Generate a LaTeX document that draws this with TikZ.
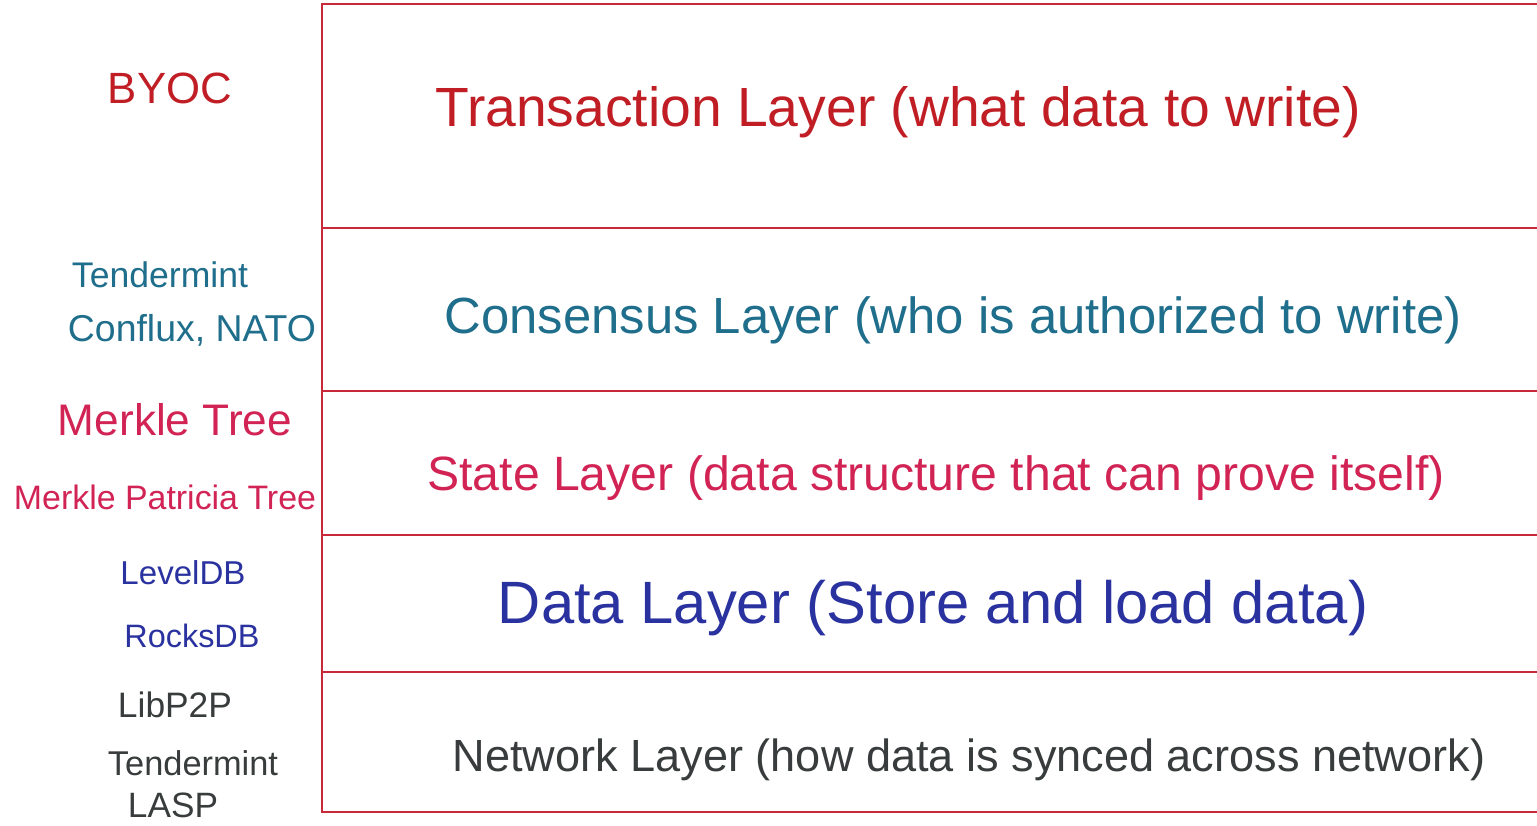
\documentclass[tikz,border=0pt]{standalone}
\usepackage{fontspec}
\setmainfont{Liberation Sans}
\usepackage{graphicx}
\definecolor{rule}{HTML}{C8283A}
\definecolor{txred}{HTML}{C01E24}
\definecolor{txteal}{HTML}{1E6E8C}
\definecolor{txcrim}{HTML}{D22355}
\definecolor{txblue}{HTML}{2A32A0}
\definecolor{txgray}{HTML}{383C3C}
% fit a text to a given width
\newcommand\fitto[2]{\resizebox{#1}{!}{#2}}
\begin{document}
\begin{tikzpicture}[x=1pt,y=-1pt,
  layerline/.style={draw=rule,line width=2pt},
  lbl/.style={inner sep=0pt,anchor=center}
]
\useasboundingbox[fill=white] (0,0) rectangle (1537,825);

% stack of layers, open on the right
\draw[layerline] (1537,4) -- (322,4) -- (322,812) -- (1537,812);
\foreach \yy in {228,391,535,672}
  \draw[layerline] (322,\yy) -- (1537,\yy);

% layer descriptions
\node[lbl,text=txred]  (trans) at (898,112) {\fitto{925pt}{Transaction Layer (what data to write)}};
\node[lbl,text=txteal] (cons)  at (953,320) {\fitto{1017pt}{Consensus Layer (who is authorized to write)}};
\node[lbl,text=txcrim] (state) at (936,478) {\fitto{1017pt}{State Layer (data structure that can prove itself)}};
\node[lbl,text=txblue] (data)  at (933,608) {\fitto{870pt}{Data Layer (Store and load data)}};
\node[lbl,text=txgray] (net)   at (969,760) {\fitto{1032pt}{Network Layer (how data is synced across network)}};

% implementations
\node[lbl,text=txred]  (byoc) at (170,88)  {\fitto{124pt}{BYOC}};
\node[lbl,text=txteal] (tm1)  at (160,275) {\fitto{176pt}{Tendermint}};
\node[lbl,text=txteal] (cfx)  at (192,330) {\fitto{248pt}{Conflux, NATO}};
\node[lbl,text=txcrim] (mt)   at (175,420) {\fitto{234pt}{Merkle Tree}};
\node[lbl,text=txcrim] (mpt)  at (165,497) {\fitto{302pt}{Merkle Patricia Tree}};
\node[lbl,text=txblue] (ldb)  at (183,573) {\fitto{125pt}{LevelDB}};
\node[lbl,text=txblue] (rdb)  at (192,636) {\fitto{135pt}{RocksDB}};
\node[lbl,text=txgray] (p2p)  at (175,705) {\fitto{114pt}{LibP2P}};
\node[lbl,text=txgray] (tm2)  at (193,763) {\fitto{170pt}{Tendermint}};
\node[lbl,text=txgray] (lasp) at (173,805) {\fitto{90pt}{LASP}};
\end{tikzpicture}
\end{document}
